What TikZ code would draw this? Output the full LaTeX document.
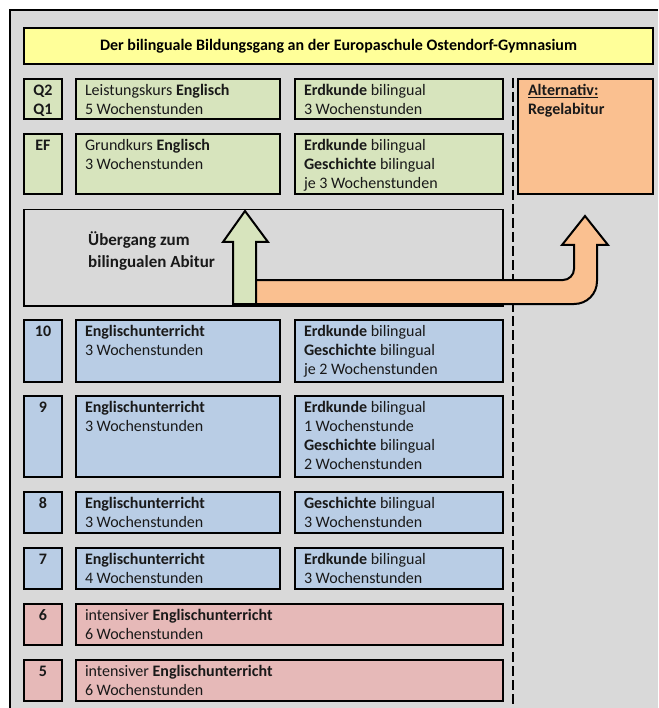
\documentclass[tikz,border=0pt]{standalone}
\usepackage{fontspec}
\setmainfont{Carlito}
\definecolor{cbg}{HTML}{D9D9D9}
\definecolor{ctitle}{HTML}{FFFF99}
\definecolor{cgreen}{HTML}{D7E4BD}
\definecolor{cblue}{HTML}{B9CDE5}
\definecolor{cpink}{HTML}{E6B9B8}
\definecolor{corange}{HTML}{FAC090}
\newcommand\bxl[3]{\parbox[t][\dimexpr#2pt-9pt\relax][t]{\dimexpr#1pt-18pt\relax}{\raggedright\rule{0pt}{12pt}#3}}
\newcommand\bxc[3]{\parbox[t][\dimexpr#2pt-9pt\relax][t]{\dimexpr#1pt-6pt\relax}{\centering\rule{0pt}{12pt}#3}}
\begin{document}
\begin{tikzpicture}[x=1pt,y=-1pt,
  boxst/.style={draw=black, line width=2pt, anchor=north west, inner xsep=9pt, inner ysep=4.5pt,
    font=\fontsize{16}{19}\selectfont, text=black!90},
  lblst/.style={boxst, inner xsep=3pt, font=\fontsize{16}{19}\selectfont\bfseries},
  arrowst/.style={draw=black, line width=2pt, line join=miter}]
\useasboundingbox (0,0) rectangle (658,708);
\fill[white] (0,0) rectangle (658,708);
\fill[cbg] (10,10) rectangle (658,708);
\draw[line width=2pt] (658,10) -- (10,10) -- (10,708);

% title
\node[draw=black, line width=2pt, fill=ctitle, anchor=north west, inner sep=0,
  minimum width=629pt, minimum height=36pt, font=\fontsize{16}{19}\selectfont\bfseries]
  (title) at (23,27) {Der bilinguale Bildungsgang an der Europaschule Ostendorf-Gymnasium};

% dashed separator
\coordinate (dtop) at (513,78);
\coordinate (dbot) at (513,708);
\draw[line width=2.5pt, dash pattern=on 10pt off 4pt] (dtop) -- (dbot);

% Q2/Q1
\node[lblst, fill=cgreen] (qlbl) at (23,78) {\bxc{38}{40}{Q2\\Q1}};
\node[boxst, fill=cgreen] (qlk) at (75,78) {\bxl{204}{40}{Leistungskurs \textbf{Englisch}\\5 Wochenstunden}};
\node[boxst, fill=cgreen] (qek) at (294,78) {\bxl{208}{40}{\textbf{Erdkunde} bilingual\\3 Wochenstunden}};
% EF
\node[lblst, fill=cgreen] (eflbl) at (23,133) {\bxc{38}{60}{EF}};
\node[boxst, fill=cgreen] (efgk) at (75,133) {\bxl{204}{60}{Grundkurs \textbf{Englisch}\\3 Wochenstunden}};
\node[boxst, fill=cgreen] (efek) at (294,133) {\bxl{208}{60}{\textbf{Erdkunde} bilingual\\\textbf{Geschichte} bilingual\\je 3 Wochenstunden}};
% Alternative
\node[boxst, fill=corange, inner xsep=10pt] (alt) at (517,78) {\parbox[t][106pt][t]{115pt}{\raggedright\rule{0pt}{12pt}\textbf{\underline{Alternativ:}}\\\textbf{Regelabitur}}};

% Uebergang
\node[draw=black, line width=1.5pt, anchor=north west, inner sep=0,
  minimum width=479pt, minimum height=96pt] (ueb) at (23,209) {};
\node[anchor=north west, inner sep=0, align=left, text=black!90,
  font=\fontsize{17}{22}\selectfont\bfseries] (uebtext) at (88,230) {\rule{0pt}{15pt}Übergang zum\\bilingualen Abitur};

% arrows
\fill[corange] (256,280) -- (563,280) .. controls (569,280) and (574,275) .. (574,269)
  -- (574,245) -- (562,245) -- (585,216) -- (608,245) -- (597,245) -- (597,281)
  .. controls (597,294) and (587,304) .. (574,304) -- (256,304) -- cycle;
\draw[arrowst] (256,280) -- (563,280) .. controls (569,280) and (574,275) .. (574,269)
  -- (574,245) -- (562,245) -- (585,216) -- (608,245) -- (597,245) -- (597,281)
  .. controls (597,294) and (587,304) .. (574,304) -- (256,304);
\draw[arrowst, fill=cgreen] (233,304) -- (233,242) -- (223,242) -- (245,211) -- (268,242)
  -- (256,242) -- (256,304) -- cycle;

% 10
\node[lblst, fill=cblue] (l10) at (23,319) {\bxc{38}{62}{10}};
\node[boxst, fill=cblue] (e10) at (75,319) {\bxl{204}{62}{\textbf{Englischunterricht}\\3 Wochenstunden}};
\node[boxst, fill=cblue] (b10) at (294,319) {\bxl{208}{62}{\textbf{Erdkunde} bilingual\\\textbf{Geschichte} bilingual\\je 2 Wochenstunden}};
% 9
\node[lblst, fill=cblue] (l9) at (23,395) {\bxc{38}{81}{9}};
\node[boxst, fill=cblue] (e9) at (75,395) {\bxl{204}{81}{\textbf{Englischunterricht}\\3 Wochenstunden}};
\node[boxst, fill=cblue] (b9) at (294,395) {\bxl{208}{81}{\textbf{Erdkunde} bilingual\\1 Wochenstunde\\\textbf{Geschichte} bilingual\\2 Wochenstunden}};
% 8
\node[lblst, fill=cblue] (l8) at (23,491) {\bxc{38}{41}{8}};
\node[boxst, fill=cblue] (e8) at (75,491) {\bxl{204}{41}{\textbf{Englischunterricht}\\3 Wochenstunden}};
\node[boxst, fill=cblue] (b8) at (294,491) {\bxl{208}{41}{\textbf{Geschichte} bilingual\\3 Wochenstunden}};
% 7
\node[lblst, fill=cblue] (l7) at (23,547) {\bxc{38}{41}{7}};
\node[boxst, fill=cblue] (e7) at (75,547) {\bxl{204}{41}{\textbf{Englischunterricht}\\4 Wochenstunden}};
\node[boxst, fill=cblue] (b7) at (294,547) {\bxl{208}{41}{\textbf{Erdkunde} bilingual\\3 Wochenstunden}};
% 6
\node[lblst, fill=cpink] (l6) at (23,603) {\bxc{38}{41}{6}};
\node[boxst, fill=cpink] (e6) at (75,603) {\bxl{427}{41}{intensiver \textbf{Englischunterricht}\\6 Wochenstunden}};
% 5
\node[lblst, fill=cpink] (l5) at (23,659) {\bxc{38}{41}{5}};
\node[boxst, fill=cpink] (e5) at (75,659) {\bxl{427}{41}{intensiver \textbf{Englischunterricht}\\6 Wochenstunden}};
\end{tikzpicture}
\end{document}
